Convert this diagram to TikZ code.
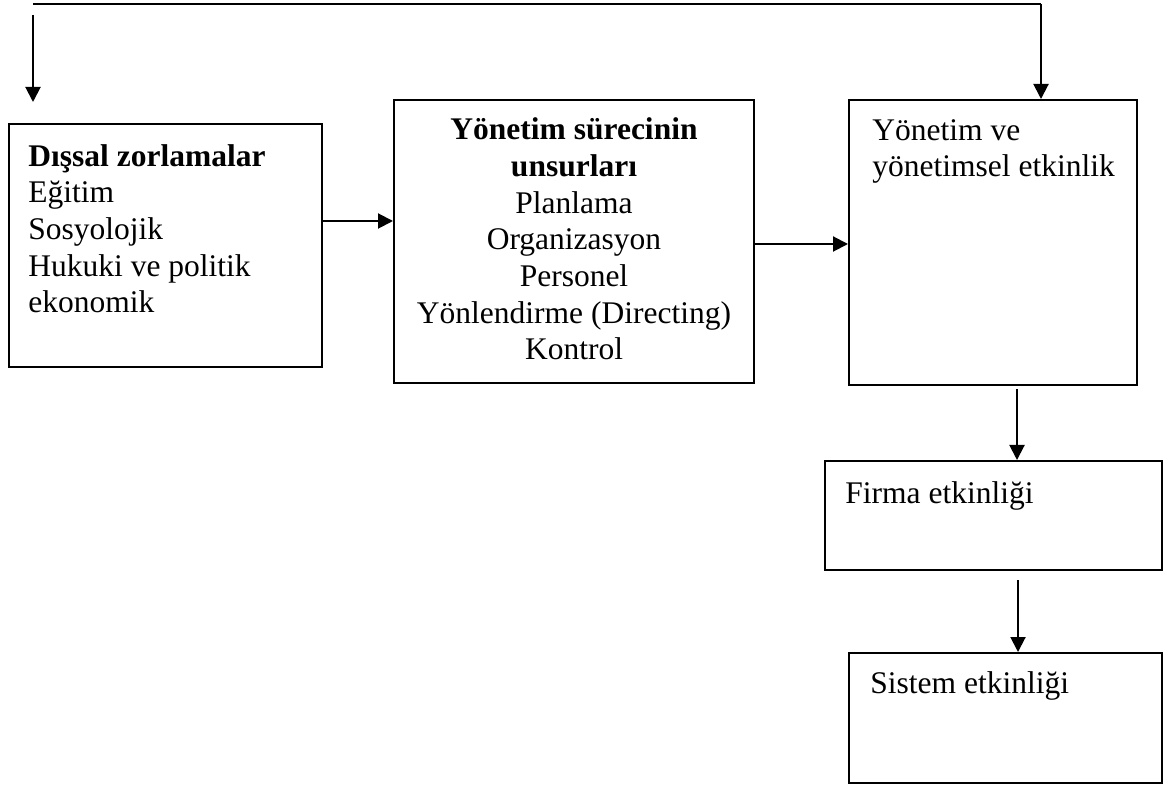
\documentclass[tikz,border=0pt]{standalone}
\usepackage{fontspec}
\setmainfont{Liberation Serif}
\usetikzlibrary{arrows.meta,positioning}

\begin{document}
\begin{tikzpicture}[
  x=0.5pt, y=-0.5pt,
  every node/.style={font={\fontsize{15.75}{18.35}\selectfont}},
  box/.style={draw, line width=1pt, inner sep=0pt},
  txt/.style={inner sep=0pt, align=left, anchor=base west},
  arr/.style={-{Triangle[length=7.5pt, width=7.5pt]}, line width=1pt}
]
  \useasboundingbox (0,0) rectangle (1166,785);

  \node[box, minimum width=156.5pt, minimum height=121.5pt] (ext)  at (165.5,245.5) {};
  \node[box, minimum width=180pt,   minimum height=141.5pt] (proc) at (574,241.5) {};
  \node[box, minimum width=144pt,   minimum height=142.5pt] (yon)  at (993,242.5) {};
  \node[box, minimum width=168.5pt, minimum height=54.5pt]  (firm) at (993.5,515.5) {};
  \node[box, minimum width=156.5pt, minimum height=65pt]    (sys)  at (1005.5,718) {};

  \node[txt] (exttxt) at (28,313)
    {\textbf{Dışsal zorlamalar}\\Eğitim\\Sosyolojik\\Hukuki ve politik\\ekonomik};
  \node[inner sep=0pt, align=center, anchor=base] (proctxt) at (574,360)
    {\textbf{Yönetim sürecinin}\\\textbf{unsurları}\\Planlama\\Organizasyon\\Personel\\Yönlendirme (Directing)\\Kontrol};
  \node[txt] (yontxt) at (872,177) {Yönetim ve\\yönetimsel etkinlik};
  \node[txt] (firmtxt) at (845,503) {Firma etkinliği};
  \node[txt] (systxt) at (870,693) {Sistem etkinliği};

  \coordinate (fbl) at (33,4);
  \coordinate (fbr) at (1041,4);
  \coordinate (fbs) at (33,15);
  \coordinate (ab) at (0,221);
  \coordinate (bc) at (0,244);
  \coordinate (cd) at (1017,389);
  \coordinate (de) at (1018,580);

  \draw[line width=1pt] (fbl) -- (fbr);
  \draw[arr] (fbr) -- (fbr |- yon.north);
  \draw[arr] (fbs) -- ([yshift=10.5pt]fbs |- ext.north);
  \draw[arr] (ext.east |- ab) -- (proc.west |- ab);
  \draw[arr] (proc.east |- bc) -- (yon.west |- bc);
  \draw[arr] (cd) -- (cd |- firm.north);
  \draw[arr] (de) -- (de |- sys.north);

\end{tikzpicture}
\end{document}
